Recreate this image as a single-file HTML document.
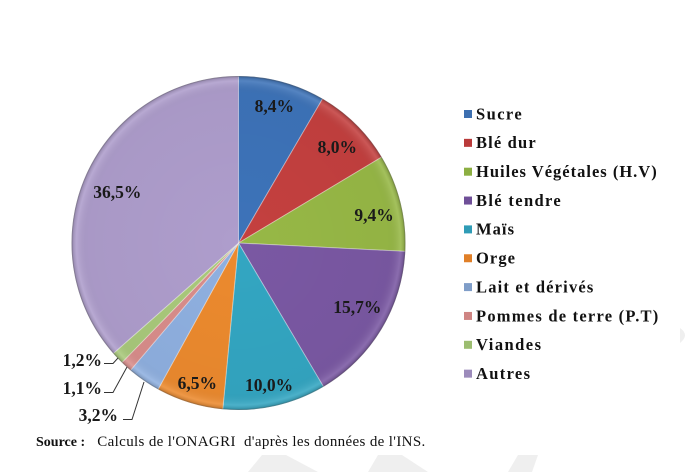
<!DOCTYPE html>
<html>
<head>
<meta charset="utf-8">
<style>
  html,body{margin:0;padding:0;background:#fff;}
  svg{display:block;}
  .pct{font-family:"Liberation Serif",serif;font-weight:bold;font-size:17.5px;fill:#1a1a1a;}
  .leg{font-family:"Liberation Serif",serif;font-weight:bold;font-size:16.5px;fill:#111;}
  .src{font-family:"Liberation Serif",serif;font-size:15px;fill:#111;}
</style>
</head>
<body>
<svg width="700" height="472" viewBox="0 0 700 472" xmlns="http://www.w3.org/2000/svg">
  <rect width="700" height="472" fill="#fff"/>
  <!-- faint watermark shapes -->
  <polygon points="248,472 262,455 286,455 318,472" fill="#efefef"/>
  <polygon points="368,472 378,455 402,455 428,472" fill="#efefef"/>
  <polygon points="508,472 518,455 538,455 532,472" fill="#efefef"/>
  <path d="M680,328 Q690,335 680,343 Z" fill="#efefef"/>

  <defs>
    <radialGradient id="shade" cx="238.5" cy="243" r="167" gradientUnits="userSpaceOnUse">
      <stop offset="0" stop-color="#000" stop-opacity="0"/>
      <stop offset="0.9" stop-color="#000" stop-opacity="0.03"/>
      <stop offset="0.97" stop-color="#fff" stop-opacity="0.12"/>
      <stop offset="1" stop-color="#000" stop-opacity="0.2"/>
    </radialGradient>
  </defs>

  <g stroke="rgba(255,255,255,0.35)" stroke-width="1" stroke-linejoin="round">
    <path d="M238.5,243 L238.5,76 A167,167 0 0 1 322.60,98.73 Z" fill="#3d73b9"/>
    <path d="M238.5,243 L322.60,98.73 A167,167 0 0 1 381.70,157.08 Z" fill="#c4403f"/>
    <path d="M238.5,243 L381.70,157.08 A167,167 0 0 1 405.29,251.39 Z" fill="#97b846"/>
    <path d="M238.5,243 L405.29,251.39 A167,167 0 0 1 323.50,386.74 Z" fill="#7a58a3"/>
    <path d="M238.5,243 L323.50,386.74 A167,167 0 0 1 222.78,409.26 Z" fill="#33a6c2"/>
    <path d="M238.5,243 L222.78,409.26 A167,167 0 0 1 158.04,389.34 Z" fill="#ec8a2e"/>
    <path d="M238.5,243 L158.04,389.34 A167,167 0 0 1 130.45,370.34 Z" fill="#8fb0e0"/>
    <path d="M238.5,243 L130.45,370.34 A167,167 0 0 1 121.88,362.54 Z" fill="#d98d8b"/>
    <path d="M238.5,243 L121.88,362.54 A167,167 0 0 1 113.23,353.44 Z" fill="#a9c97b"/>
    <path d="M238.5,243 L113.23,353.44 A167,167 0 0 1 238.5,76 Z" fill="#ae9dcc"/>
  </g>
  <circle cx="238.5" cy="243" r="167" fill="url(#shade)"/>
  <circle cx="238.5" cy="243" r="166.5" fill="none" stroke="rgba(60,60,60,0.25)" stroke-width="1"/>

  <!-- percentage labels -->
  <g class="pct" text-anchor="middle">
    <text x="274.3" y="112">8,4%</text>
    <text x="337.3" y="153">8,0%</text>
    <text x="374" y="221">9,4%</text>
    <text x="357.3" y="313">15,7%</text>
    <text x="269" y="391">10,0%</text>
    <text x="197.3" y="389">6,5%</text>
    <text x="117.3" y="198">36,5%</text>
  </g>
  <g class="pct" text-anchor="end">
    <text x="102" y="366">1,2%</text>
    <text x="102" y="394">1,1%</text>
    <text x="118" y="421">3,2%</text>
  </g>
  <g fill="none" stroke="#333" stroke-width="1">
    <polyline points="104,363.5 113,363.5 118,358"/>
    <polyline points="104,392.5 113,392.5 127,367"/>
    <polyline points="123,419.5 132,419.5 144,382"/>
  </g>

  <!-- legend -->
  <g>
    <rect x="464" y="110" width="8" height="8" fill="#3d6fb0"/>
    <rect x="464" y="138.85" width="8" height="8" fill="#b93a3a"/>
    <rect x="464" y="167.7" width="8" height="8" fill="#8caf42"/>
    <rect x="464" y="196.55" width="8" height="8" fill="#6f4f98"/>
    <rect x="464" y="225.4" width="8" height="8" fill="#2f9cb6"/>
    <rect x="464" y="254.25" width="8" height="8" fill="#e07f28"/>
    <rect x="464" y="283.1" width="8" height="8" fill="#7f9dc8"/>
    <rect x="464" y="311.95" width="8" height="8" fill="#cf8583"/>
    <rect x="464" y="340.8" width="8" height="8" fill="#9cbd70"/>
    <rect x="464" y="369.65" width="8" height="8" fill="#9c8bbb"/>
  </g>
  <g class="leg">
    <text x="476" y="119.3" textLength="45.7" lengthAdjust="spacing">Sucre</text>
    <text x="476" y="148.15" textLength="59.7" lengthAdjust="spacing">Blé dur</text>
    <text x="476" y="177" textLength="180.7" lengthAdjust="spacing">Huiles Végétales (H.V)</text>
    <text x="476" y="205.85" textLength="84.7" lengthAdjust="spacing">Blé tendre</text>
    <text x="476" y="234.7" textLength="38" lengthAdjust="spacing">Maïs</text>
    <text x="476" y="263.55" textLength="39" lengthAdjust="spacing">Orge</text>
    <text x="476" y="292.4" textLength="117.3" lengthAdjust="spacing">Lait et dérivés</text>
    <text x="476" y="321.25" textLength="182.3" lengthAdjust="spacing">Pommes de terre (P.T)</text>
    <text x="476" y="350.1" textLength="65" lengthAdjust="spacing">Viandes</text>
    <text x="476" y="378.95" textLength="54" lengthAdjust="spacing">Autres</text>
  </g>

  <!-- source -->
  <text class="src" x="36" y="446" font-weight="bold" font-size="14" style="font-size:14px">Source :</text>
  <text class="src" x="97.3" y="446" textLength="328" lengthAdjust="spacing" xml:space="preserve">Calculs de l'ONAGRI  d'après les données de l'INS.</text>
</svg>
</body>
</html>
